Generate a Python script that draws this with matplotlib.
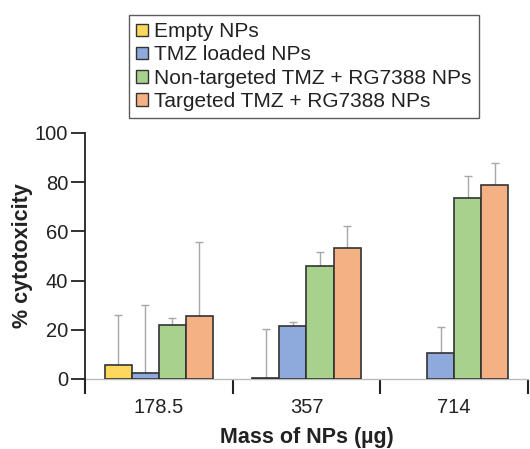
import numpy as np
import matplotlib
matplotlib.use("Agg")
import matplotlib.pyplot as plt
from matplotlib.patches import Patch

plt.rcParams['font.family'] = ['Liberation Sans', 'DejaVu Sans']

groups = ["178.5", "357", "714"]
series = ["Empty NPs", "TMZ loaded NPs", "Non-targeted TMZ + RG7388 NPs", "Targeted TMZ + RG7388 NPs"]
colors = ["#FDD85D", "#8EA9DB", "#A9D18E", "#F4B183"]

empty_np = [5.7, 0.5, 0.0]
tmz_np = [2.6, 21.7, 10.6]
nontarg_np = [22.0, 46.0, 73.4]
targ_np = [25.5, 53.4, 79.0]

empty_err = [20.5, 20.0, 0.0]
tmz_err = [27.4, 1.5, 10.6]
nontarg_err = [3.0, 5.5, 9.3]
targ_err = [30.1, 8.6, 8.9]

values = [empty_np, tmz_np, nontarg_np, targ_np]
errors = [empty_err, tmz_err, nontarg_err, targ_err]

fig = plt.figure(figsize=(5.30, 4.49), dpi=100)
ax = fig.add_axes([85/530, 1-379/449, (528-85)/530, (379-133)/449])

x = np.arange(len(groups))
w = 0.183
for i, (vals, errs, c) in enumerate(zip(values, errors, colors)):
    off = (i - 1.5) * w
    for j, (v, e) in enumerate(zip(vals, errs)):
        if v <= 0:
            continue
        ax.bar(x[j] + off, v, width=w, color=c, edgecolor="#333333", linewidth=1.2, zorder=3)
        if e > 0:
            ax.errorbar(x[j] + off, v, yerr=[[0], [e]], fmt="none", ecolor="#A8A8A8",
                        elinewidth=1.0, capsize=3, capthick=1.0, zorder=2)

ax.set_xlim(-0.5, 2.5)
ax.set_ylim(0, 100)
ax.spines['top'].set_visible(False)
ax.spines['right'].set_visible(False)
ax.spines['left'].set_color("#222222")
ax.spines['left'].set_linewidth(1.3)
ax.spines['bottom'].set_color("#BBBBBB")
ax.spines['bottom'].set_linewidth(1.0)
ax.plot([-0.5, -0.5], [0, -4.6], color="#222222", lw=1.3, clip_on=False, zorder=4)

ax.set_yticks([0, 20, 40, 60, 80, 100])
ax.tick_params(axis='y', direction='out', length=10, width=1.3, color="#222222",
               labelsize=14.5, labelcolor="#222222", pad=2)
ax.set_xticks([-0.5, 0.5, 1.5, 2.5])
ax.set_xticklabels([])
ax.tick_params(axis='x', direction='out', length=11, width=1.5, color="#222222")
for j, g in enumerate(groups):
    ax.text(x[j], -7.8, g, ha='center', va='top', fontsize=14.5, color="#222222")

ax.set_ylabel("% cytotoxicity", fontsize=15.5, fontweight='bold', color="#222222")
ax.yaxis.set_label_coords(-0.117, 0.5)
fig.text(307/530, 1-437/449, "Mass of NPs (\u00b5g)", ha='center', va='center',
         fontsize=15.5, fontweight='bold', color="#222222")

handles = [Patch(facecolor=c, edgecolor="#333333", linewidth=1.0) for c in colors]
leg = fig.legend(handles, series, loc='upper left', bbox_to_anchor=(129/530, 1-15/449),
                 fontsize=15, frameon=True, fancybox=False, edgecolor="#333333",
                 handlelength=0.55, handleheight=0.55, handletextpad=0.3,
                 labelspacing=0.2, borderpad=0.35, borderaxespad=0)
leg.get_frame().set_linewidth(1.0)
for t in leg.get_texts():
    t.set_color("#222222")

fig.savefig("out.png", dpi=100)
